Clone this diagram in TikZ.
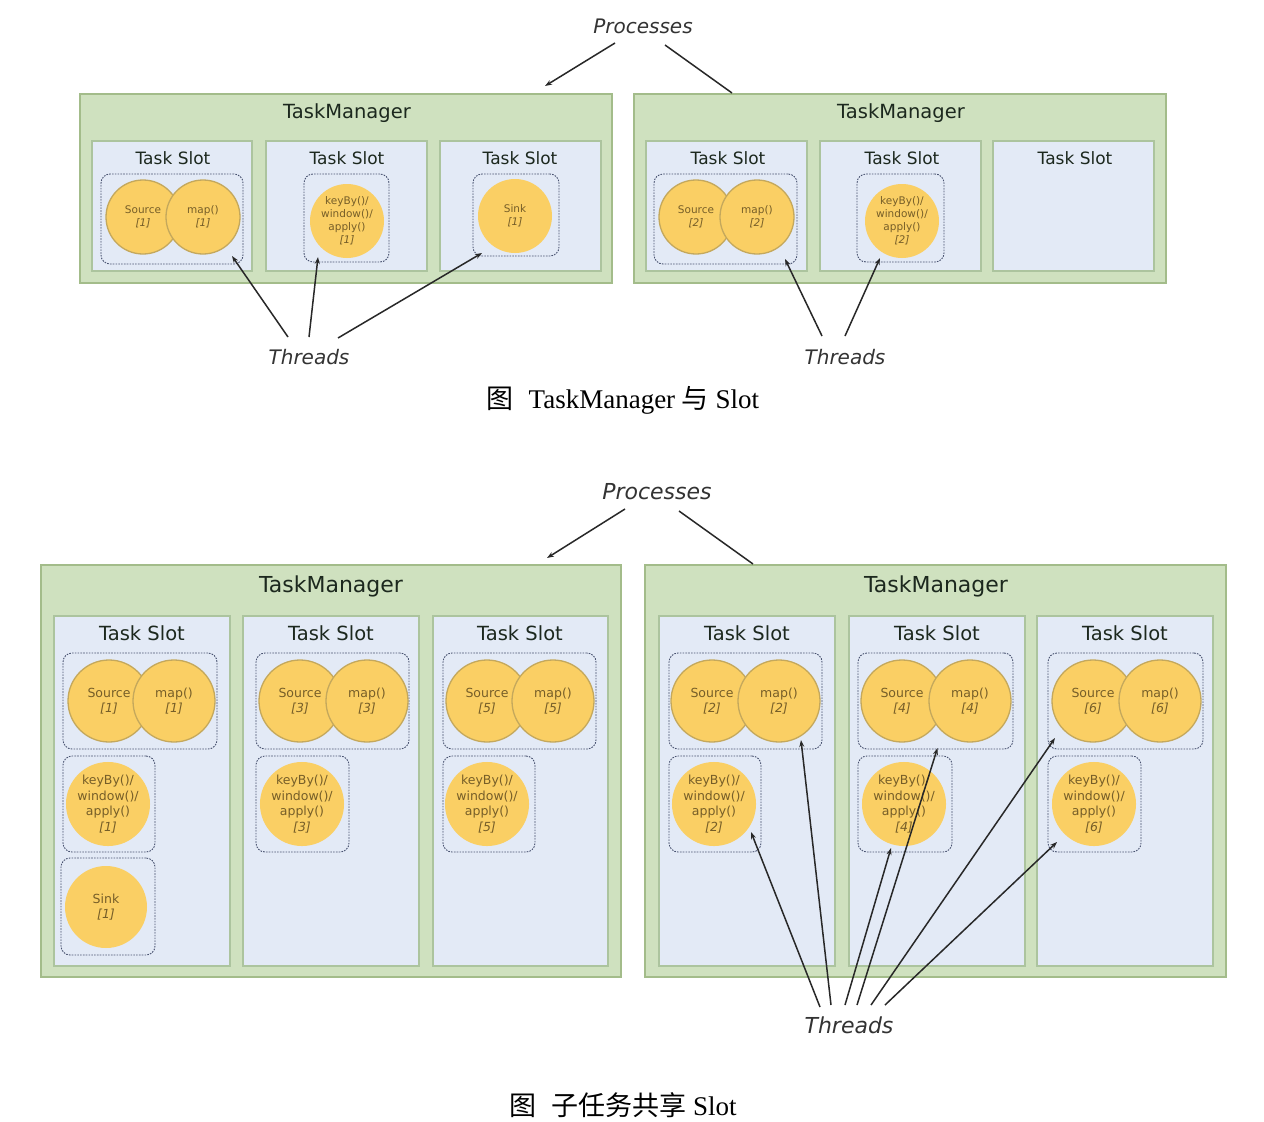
\documentclass[tikz,border=0pt]{standalone}
\usepackage{fontspec}
\setmainfont{DejaVu Sans}
\newfontfamily\capfont{Liberation Serif}
\newfontfamily\cjkfont{Noto Sans CJK SC}
\usetikzlibrary{arrows.meta}
\definecolor{tmfill}{RGB}{207,225,191}
\definecolor{tmborder}{RGB}{163,188,138}
\definecolor{slotfill}{RGB}{227,234,246}
\definecolor{slotborder}{RGB}{172,196,158}
\definecolor{grpline}{RGB}{72,82,112}
\definecolor{opfill}{RGB}{250,207,100}
\definecolor{opborder}{RGB}{196,168,92}
\definecolor{optext}{RGB}{118,94,40}
\definecolor{titletext}{RGB}{28,40,30}
\definecolor{linkcol}{RGB}{40,40,40}
\newcommand\mkbox[6]{\node[#2, anchor=north west, minimum width={(#5-#3)*1pt}, minimum height={(#6-#4)*1pt}] (#1) at (#3,#4) {};}
\begin{document}
\begin{tikzpicture}[x=1pt,y=-1pt,
  tm/.style={draw=tmborder, fill=tmfill, line width=1.8pt, inner sep=0pt, outer sep=0pt},
  slot/.style={draw=slotborder, fill=slotfill, line width=1.5pt, inner sep=0pt, outer sep=0pt},
  grp/.style={draw=grpline, line width=0.9pt, dash pattern=on 1.6pt off 1.2pt, rounded corners=9pt, inner sep=0pt, outer sep=0pt},
  op/.style={circle, fill=opfill, draw=opborder, line width=1.3pt, inner sep=0pt, align=center, text=optext},
  opsoft/.style={circle, fill=opfill, inner sep=0pt, align=center, text=optext},
  optop/.style={font=\fontsize{10.5}{13}\selectfont, minimum size=74pt},
  opbot/.style={font=\fontsize{12.5}{15.5}\selectfont, minimum size=82pt},
  tmtitleA/.style={font=\fontsize{19.5}{24}\selectfont, text=titletext},
  tmtitleB/.style={font=\fontsize{22}{26}\selectfont, text=titletext},
  slottitleA/.style={font=\fontsize{17}{20}\selectfont, text=titletext},
  slottitleB/.style={font=\fontsize{19.5}{23}\selectfont, text=titletext},
  labA/.style={font=\fontsize{20}{24}\selectfont\itshape, text=black!80},
  labB/.style={font=\fontsize{22}{26}\selectfont\itshape, text=black!80},
  capt/.style={font=\capfont\fontsize{27}{32}\selectfont, text=black},
  link/.style={draw=linkcol, line width=1.5pt, -{Stealth[length=7pt,width=5pt]}},
  plink/.style={draw=linkcol, line width=1.5pt}
]
\useasboundingbox[fill=white] (0,0) rectangle (1264,1122);

% ================= TOP FIGURE =================
\mkbox{tmA}{tm}{80}{94}{612}{283}
\node[tmtitleA] (tmAt) at (347,113) {TaskManager};
\mkbox{sA1}{slot}{92}{141}{252}{271}
\mkbox{sA2}{slot}{266}{141}{427}{271}
\mkbox{sA3}{slot}{440}{141}{601}{271}
\node[slottitleA] (sA1t) at (173,158) {Task Slot};
\node[slottitleA] (sA2t) at (347,158) {Task Slot};
\node[slottitleA] (sA3t) at (520,158) {Task Slot};
\mkbox{gA1}{grp}{101}{174}{243}{264}
\mkbox{gA2}{grp}{304}{174}{389}{262}
\mkbox{gA3}{grp}{473}{174}{559}{256}
\node[op,optop] (oA1s) at (143,217) {Source\\\textit{[1]}};
\node[op,optop] (oA1m) at (203,217) {map()\\\textit{[1]}};
\node[opsoft,optop] (oA2k) at (347,221) {keyBy()/\\window()/\\apply()\\\textit{[1]}};
\node[opsoft,optop] (oA3s) at (515,216) {Sink\\\textit{[1]}};

\mkbox{tmB}{tm}{634}{94}{1166}{283}
\node[tmtitleA] (tmBt) at (901,113) {TaskManager};
\mkbox{sB1}{slot}{646}{141}{807}{271}
\mkbox{sB2}{slot}{820}{141}{981}{271}
\mkbox{sB3}{slot}{993}{141}{1154}{271}
\node[slottitleA] (sB1t) at (728,158) {Task Slot};
\node[slottitleA] (sB2t) at (902,158) {Task Slot};
\node[slottitleA] (sB3t) at (1075,158) {Task Slot};
\mkbox{gB1}{grp}{654}{174}{797}{264}
\mkbox{gB2}{grp}{857}{174}{944}{262}
\node[op,optop] (oB1s) at (696,217) {Source\\\textit{[2]}};
\node[op,optop] (oB1m) at (757,217) {map()\\\textit{[2]}};
\node[opsoft,optop] (oB2k) at (902,221) {keyBy()/\\window()/\\apply()\\\textit{[2]}};

% Processes (top)
\node[labA] (procA) at (643,26) {Processes};
\coordinate (pA1) at (615,43);
\coordinate (pA2) at (665,45);
\draw[link] (pA1) -- ([xshift=-67pt,yshift=8pt]tmA.north east);
\draw[plink] (pA2) -- ([xshift=98pt,yshift=1pt]tmB.north west);

% Threads (top)
\node[labA] (thA) at (309,357) {Threads};
\coordinate (tA1) at (288,337);
\coordinate (tA2) at (309,337);
\coordinate (tA3) at (338,338);
\draw[link] (tA1) -- ([xshift=-11pt,yshift=8pt]gA1.south east);
\draw[link] (tA2) -- ([xshift=14pt,yshift=5pt]gA2.south west);
\draw[link] (tA3) -- ([xshift=9pt,yshift=3pt]gA3.south west);

\node[labA] (thB) at (845,357) {Threads};
\coordinate (tB1) at (822,336);
\coordinate (tB2) at (845,336);
\draw[link] (tB1) -- ([xshift=-12pt,yshift=5pt]gB1.south east);
\draw[link] (tB2) -- ([xshift=23pt,yshift=4pt]gB2.south west);

\node[capt] (capA) at (623,400) {{\cjkfont 图}\hspace{0.55em}TaskManager {\cjkfont 与} Slot};

% ================= BOTTOM FIGURE =================
\mkbox{tmC}{tm}{41}{565}{621}{977}
\node[tmtitleB] (tmCt) at (331,586) {TaskManager};
\mkbox{sC1}{slot}{54}{616}{230}{966}
\mkbox{sC2}{slot}{243}{616}{419}{966}
\mkbox{sC3}{slot}{433}{616}{608}{966}
\node[slottitleB] (sC1t) at (142,633) {Task Slot};
\node[slottitleB] (sC2t) at (331,633) {Task Slot};
\node[slottitleB] (sC3t) at (520,633) {Task Slot};
\mkbox{gC1a}{grp}{63}{653}{217}{749}
\mkbox{gC1b}{grp}{63}{756}{155}{852}
\mkbox{gC1c}{grp}{61}{858}{155}{955}
\mkbox{gC2a}{grp}{256}{653}{409}{749}
\mkbox{gC2b}{grp}{256}{756}{349}{852}
\mkbox{gC3a}{grp}{443}{653}{596}{749}
\mkbox{gC3b}{grp}{443}{756}{535}{852}
\node[op,opbot] (oC1s) at (109,701) {Source\\\textit{[1]}};
\node[op,opbot] (oC1m) at (174,701) {map()\\\textit{[1]}};
\node[opsoft,opbot] (oC1k) at (108,804) {keyBy()/\\window()/\\apply()\\\textit{[1]}};
\node[opsoft,opbot] (oC1x) at (106,907) {Sink\\\textit{[1]}};
\node[op,opbot] (oC2s) at (300,701) {Source\\\textit{[3]}};
\node[op,opbot] (oC2m) at (367,701) {map()\\\textit{[3]}};
\node[opsoft,opbot] (oC2k) at (302,804) {keyBy()/\\window()/\\apply()\\\textit{[3]}};
\node[op,opbot] (oC3s) at (487,701) {Source\\\textit{[5]}};
\node[op,opbot] (oC3m) at (553,701) {map()\\\textit{[5]}};
\node[opsoft,opbot] (oC3k) at (487,804) {keyBy()/\\window()/\\apply()\\\textit{[5]}};

\mkbox{tmD}{tm}{645}{565}{1226}{977}
\node[tmtitleB] (tmDt) at (936,586) {TaskManager};
\mkbox{sD1}{slot}{659}{616}{835}{966}
\mkbox{sD2}{slot}{849}{616}{1025}{966}
\mkbox{sD3}{slot}{1037}{616}{1213}{966}
\node[slottitleB] (sD1t) at (747,633) {Task Slot};
\node[slottitleB] (sD2t) at (937,633) {Task Slot};
\node[slottitleB] (sD3t) at (1125,633) {Task Slot};
\mkbox{gD1a}{grp}{669}{653}{822}{749}
\mkbox{gD1b}{grp}{669}{756}{761}{852}
\mkbox{gD2a}{grp}{858}{653}{1013}{749}
\mkbox{gD2b}{grp}{858}{756}{952}{852}
\mkbox{gD3a}{grp}{1048}{653}{1203}{749}
\mkbox{gD3b}{grp}{1048}{756}{1141}{852}
\node[op,opbot] (oD1s) at (712,701) {Source\\\textit{[2]}};
\node[op,opbot] (oD1m) at (779,701) {map()\\\textit{[2]}};
\node[opsoft,opbot] (oD1k) at (714,804) {keyBy()/\\window()/\\apply()\\\textit{[2]}};
\node[op,opbot] (oD2s) at (902,701) {Source\\\textit{[4]}};
\node[op,opbot] (oD2m) at (970,701) {map()\\\textit{[4]}};
\node[opsoft,opbot] (oD2k) at (904,804) {keyBy()/\\window()/\\apply()\\\textit{[4]}};
\node[op,opbot] (oD3s) at (1093,701) {Source\\\textit{[6]}};
\node[op,opbot] (oD3m) at (1160,701) {map()\\\textit{[6]}};
\node[opsoft,opbot] (oD3k) at (1094,804) {keyBy()/\\window()/\\apply()\\\textit{[6]}};

% Processes (bottom)
\node[labB] (procB) at (657,492) {Processes};
\coordinate (pB1) at (625,509);
\coordinate (pB2) at (679,511);
\draw[link] (pB1) -- ([xshift=-74pt,yshift=7pt]tmC.north east);
\draw[plink] (pB2) -- ([xshift=108pt,yshift=1pt]tmD.north west);

% Threads (bottom)
\node[labB] (thD) at (849,1025) {Threads};
\coordinate (tD1) at (820,1007);
\coordinate (tD2) at (831,1005);
\coordinate (tD3) at (845,1005);
\coordinate (tD4) at (857,1005);
\coordinate (tD5) at (871,1005);
\coordinate (tD6) at (885,1005);
\draw[link] (tD1) -- ([xshift=-10pt,yshift=20pt]gD1b.south east);
\draw[link] (tD2) -- ([xshift=-21pt,yshift=9pt]gD1a.south east);
\draw[link] (tD3) -- ([xshift=33pt,yshift=4pt]gD2b.south west);
\draw[link] (tD4) -- ([xshift=2pt,yshift=1pt]gD2a.south);
\draw[link] (tD5) -- ([xshift=7pt,yshift=11pt]gD3a.south west);
\draw[link] (tD6) -- ([xshift=9pt,yshift=10pt]gD3b.south west);

\node[capt] (capB) at (623,1105) {{\cjkfont 图}\hspace{0.55em}{\cjkfont 子任务共享} Slot};
\end{tikzpicture}
\end{document}
